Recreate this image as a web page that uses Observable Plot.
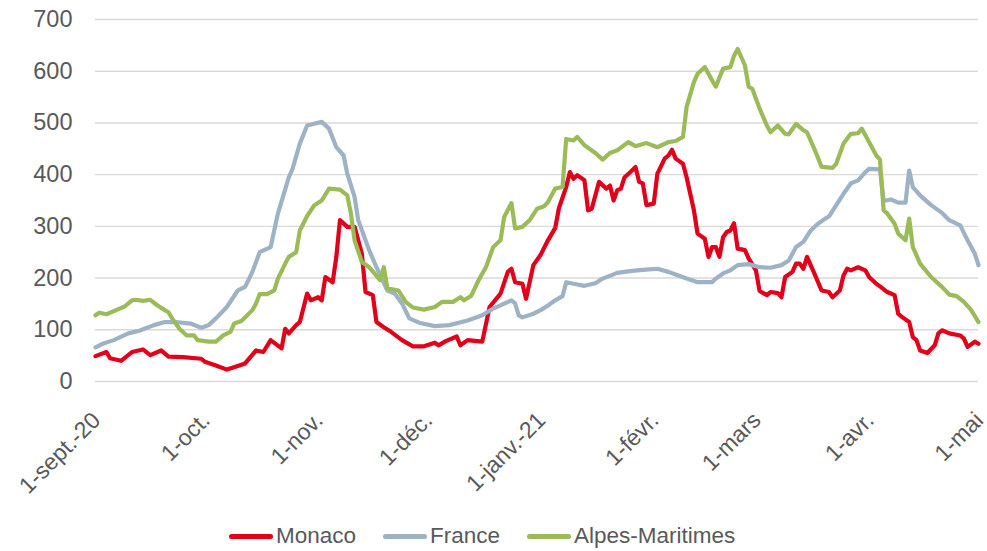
<!DOCTYPE html>
<html><head><meta charset="utf-8">
<script src="https://cdn.jsdelivr.net/npm/d3@7"></script>
<script src="https://cdn.jsdelivr.net/npm/@observablehq/plot@0.6"></script>
<style>
body{margin:0;background:#fff;font-family:"Liberation Sans",Arial,Helvetica,sans-serif;color:#595959;}
#wrap{position:relative;width:987px;height:551px;}
#legend{position:absolute;left:229px;top:518px;height:36px;display:flex;align-items:center;font-size:22.5px;color:#595959;white-space:nowrap;}
#legend .item{display:flex;align-items:center;margin-right:27px;}
#legend .sw{width:44px;height:5px;border-radius:3px;margin-right:3px;}
</style></head><body><div id="wrap"><div id="chart"></div><div id="legend"></div></div>
<script>
// Days counted from 1 Sept 2020
const tickDays = [0, 30, 61, 91, 122, 153, 181, 212, 242];
const tickLabels = ["1-sept.-20", "1-oct.", "1-nov.", "1-déc.", "1-janv.-21", "1-févr.", "1-mars", "1-avr.", "1-mai"];
const yTicks = [0, 100, 200, 300, 400, 500, 600, 700];
const seriesNames = ["Monaco", "France", "Alpes-Maritimes"];
const seriesColors = ["#E2001A", "#9DB2C5", "#9BBB59"];

const monacoDays = [0,3,4,7,10,13,15,18,20,24,29,30,33,36,39,41,44,46,48,51,52,53,55,56,58,59,61,62,63,65,66,67,69,71,73,74,76,77,79,81,84,87,90,93,94,96,99,100,102,106,108,111,113,114,115,117,118,120,122,124,126,127,129,130,131,132,134,135,136,138,140,141,142,143,144,145,146,148,149,150,151,153,154,156,157,158,159,161,162,163,164,165,167,168,169,170,171,172,173,174,175,176,178,179,181,182,184,185,187,188,189,191,192,193,194,195,197,199,201,202,204,205,206,207,209,211,212,214,215,217,219,220,221,223,224,225,226,228,230,231,232,234,237,238,239,241,242];
const monacoValues = [49,57,45,40,57,62,51,60,48,47,44,38,31,23,30,35,60,57,80,64,102,93,109,115,170,157,163,157,202,192,241,312,299,299,247,173,167,115,105,96,80,68,68,75,70,78,87,70,80,77,144,170,212,218,192,189,160,225,245,273,297,335,376,405,392,399,389,331,334,386,373,379,350,370,373,395,401,415,386,383,341,344,402,431,437,448,431,421,395,363,331,286,276,241,260,260,241,279,289,292,306,257,254,238,215,175,167,173,171,163,202,212,228,228,218,241,209,176,173,163,176,205,218,215,221,215,202,189,184,173,167,131,125,115,86,80,60,55,70,93,99,93,89,83,67,77,73];

const franceDays = [0,2,5,9,12,16,19,22,26,29,31,33,36,39,41,43,45,48,50,53,54,56,58,62,64,66,68,69,71,72,74,75,77,80,82,84,86,89,93,97,102,106,109,114,115,116,117,120,122,124,126,128,129,131,134,137,139,143,147,150,154,157,159,162,165,169,170,172,174,176,179,182,185,188,190,192,194,196,198,200,201,203,205,207,209,211,212,215,216,218,220,222,223,224,226,229,232,234,237,239,241,242];
const franceValues = [66,73,80,93,98,109,115,115,112,104,109,122,144,176,183,212,250,260,325,395,411,460,495,502,489,453,437,402,357,312,273,254,221,176,170,151,122,113,107,109,118,128,141,157,151,128,124,131,138,147,157,165,192,189,185,190,199,210,214,216,218,212,207,199,192,192,199,209,215,225,227,221,220,225,234,260,270,292,305,315,319,341,363,383,389,405,411,410,349,352,346,346,408,376,360,341,326,312,302,273,247,225];

const alpesDays = [0,1,3,6,8,10,11,13,15,17,19,20,21,23,25,27,28,31,33,35,37,38,40,43,44,45,47,49,50,52,53,55,56,58,60,62,64,67,69,70,71,73,75,78,79,80,83,85,87,90,93,95,98,100,101,103,105,107,109,111,112,114,115,117,119,121,123,124,126,128,129,131,132,134,137,139,141,143,146,148,151,154,157,159,161,162,164,165,167,169,170,172,174,175,176,178,179,180,182,184,185,187,189,190,192,194,195,197,199,202,203,205,207,209,210,212,214,215,216,217,219,220,222,223,224,226,229,232,234,236,238,240,242];
const alpesValues = [128,133,130,139,145,157,158,156,158,147,138,134,122,102,89,89,80,77,77,89,96,112,117,138,151,169,169,176,199,228,241,250,292,320,341,350,373,371,360,325,273,231,221,196,221,180,176,154,143,139,144,154,154,163,157,166,196,221,260,273,318,345,296,299,312,334,339,347,373,376,469,466,473,457,442,429,442,447,463,455,461,453,463,465,473,531,579,595,608,582,570,605,608,630,643,611,570,566,528,495,482,495,479,478,498,486,482,450,415,413,421,460,479,480,489,463,437,429,331,325,305,286,273,315,260,228,202,183,168,165,154,138,115];

const start = new Date(Date.UTC(2020, 8, 1));
const toDate = d => d3.utcDay.offset(start, d);
function rows(days, values, name) {
  return days.map((d, i) => ({date: toDate(d), value: values[i], series: name}));
}
const allDays = [monacoDays, franceDays, alpesDays];
const allValues = [monacoValues, franceValues, alpesValues];
const data = seriesNames.map((n, i) => rows(allDays[i], allValues[i], n));

const ticks = tickDays.map((d, i) => ({date: toDate(d), label: tickLabels[i]}));

const chart = Plot.plot({
  width: 987,
  height: 516,
  marginTop: 19,
  marginBottom: 135,
  marginLeft: 95,
  marginRight: 9,
  style: {fontFamily: '"Liberation Sans", Arial, Helvetica, sans-serif', color: "#595959", background: "#fff", overflow: "visible"},
  x: {type: "utc", domain: [toDate(tickDays[0]), toDate(tickDays[tickDays.length - 1])], axis: null},
  y: {domain: [0, 700], axis: null},
  marks: [
    Plot.gridY(yTicks, {stroke: "#D9D9D9", strokeOpacity: 1, strokeWidth: 1.4}),
    Plot.axisY(yTicks, {tickSize: 0, tickPadding: 23, fontSize: 23.5, fill: "#595959", tickFormat: d => String(d), label: null}),
    Plot.text(ticks, {x: "date", text: "label", frameAnchor: "bottom", dy: 35, dx: 1, rotate: -45, textAnchor: "end", lineAnchor: "middle", fontSize: 23, fill: "#595959"}),
    ...data.map((rs, i) => Plot.line(rs, {x: "date", y: "value", stroke: seriesColors[i], strokeWidth: 4.2, strokeLinejoin: "round", strokeLinecap: "round"}))
  ]
});
document.getElementById("chart").appendChild(chart);

const legend = document.getElementById("legend");
seriesNames.forEach((n, i) => {
  const it = document.createElement("div");
  it.className = "item";
  const sw = document.createElement("div");
  sw.className = "sw";
  sw.style.background = seriesColors[i];
  const tx = document.createElement("span");
  tx.textContent = n;
  it.appendChild(sw); it.appendChild(tx);
  legend.appendChild(it);
});
</script></body></html>
